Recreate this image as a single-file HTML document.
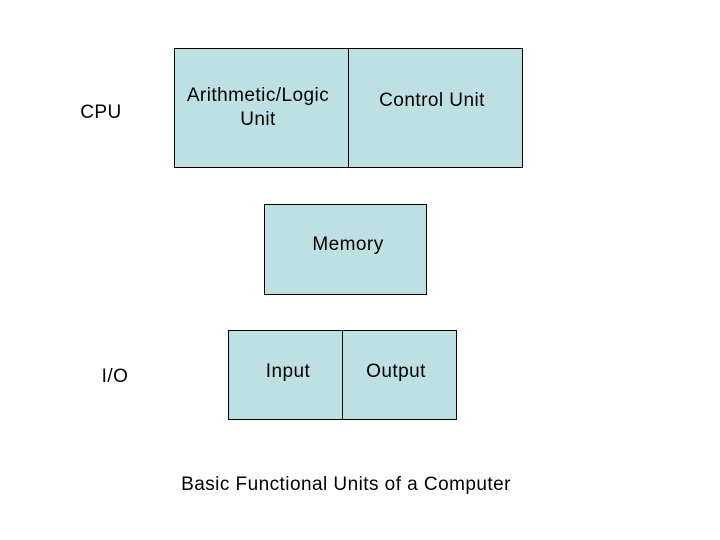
<!DOCTYPE html>
<html><head><style>
body{margin:0;width:720px;height:540px;background:#fff;position:relative;font-family:"Liberation Sans",Arial,sans-serif;font-size:19px;letter-spacing:0.45px;color:#000;overflow:hidden}
.b{position:absolute;background:#bde0e3;border:1px solid #000;box-sizing:border-box}
.t{position:absolute;white-space:nowrap;line-height:24px;text-align:center;transform:translate(-50%,-50%)}
</style></head><body>
<div class="b" style="left:174px;top:48px;width:175px;height:120px"></div>
<div class="b" style="left:348px;top:48px;width:175px;height:120px"></div>
<div class="b" style="left:264px;top:204px;width:163px;height:91px"></div>
<div class="b" style="left:228px;top:330px;width:115px;height:90px"></div>
<div class="b" style="left:342px;top:330px;width:115px;height:90px"></div>
<div class="t" style="left:101px;top:112.5px">CPU</div>
<div class="t" style="left:258px;top:107.5px">Arithmetic/Logic<br>Unit</div>
<div class="t" style="left:432px;top:100.5px">Control Unit</div>
<div class="t" style="left:348px;top:244.5px">Memory</div>
<div class="t" style="left:115px;top:376.5px">I/O</div>
<div class="t" style="left:288px;top:371.5px">Input</div>
<div class="t" style="left:396px;top:371.5px">Output</div>
<div class="t" style="left:346px;top:484.5px">Basic Functional Units of a Computer</div>
</body></html>
